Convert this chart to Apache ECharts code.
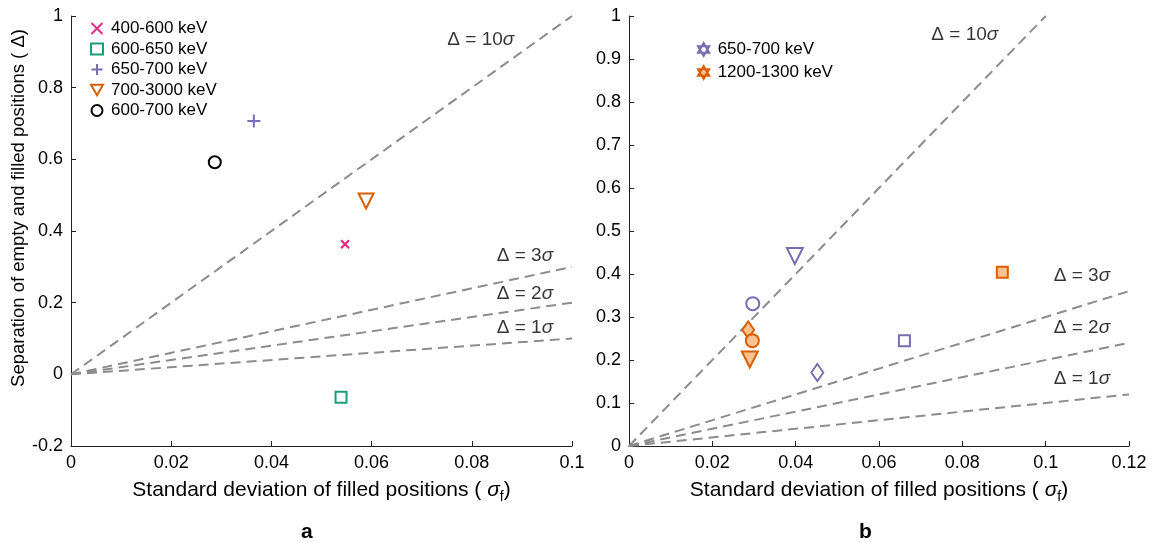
<!DOCTYPE html>
<html>
<head>
<meta charset="utf-8">
<script src="https://cdn.jsdelivr.net/npm/echarts@6/dist/echarts.min.js"></script>
<style>
html,body{margin:0;padding:0;background:#fff;}
#charts{width:1163px;height:543px;}
</style>
</head>
<body>
<div id="charts"></div>
<script>
// panel a data
var leftNames = ['400-600 keV', '600-650 keV', '650-700 keV', '700-3000 keV', '600-700 keV'];
var leftX = [0.0547, 0.0539, 0.0365, 0.0589, 0.0287];
var leftY = [0.363, -0.064, 0.707, 0.484, 0.592];

// panel b data
var rightNames = ['650-700 keV', '1200-1300 keV'];
var purpleShapes = ['circle', 'triangleDown', 'diamond', 'square'];
var purpleX = [0.0297, 0.0398, 0.0452, 0.0661];
var purpleY = [0.331, 0.442, 0.171, 0.245];
var orangeShapes = ['diamond', 'circle', 'triangleDown', 'square'];
var orangeX = [0.0286, 0.0296, 0.0290, 0.0896];
var orangeY = [0.270, 0.245, 0.201, 0.404];

// sigma guide lines
var sigmaLevels = [10, 3, 2, 1];

var FONT = 'Liberation Sans';
var PURPLE = '#7570b3', ORANGE = '#d95f02', ORANGE_FILL = '#fdc28f';
var PINK = '#e7298a', GREEN = '#1b9e77';

var SYM = {
    cross: 'path://M0,0 L10,10 M10,0 L0,10',
    plus: 'path://M5,0 L5,10 M0,5 L10,5',
    triangleDown: 'path://M0,0 L10,0 L5,8.66 Z',
    square: 'rect',
    circle: 'circle',
    diamond: 'path://M4,0 L8,6 L4,12 L0,6 Z',
    hexagram: 'path://M5,0 L9.33,7.5 L0.67,7.5 Z M5,10 L0.67,2.5 L9.33,2.5 Z'
};

var myCharts = echarts.init(document.getElementById('charts'));

function axisCommon(){
    return {
        axisLine: {show: true, onZero: false, lineStyle: {color: '#222', width: 1}},
        axisTick: {show: true, inside: true, length: 5, lineStyle: {color: '#222'}},
        axisLabel: {color: '#000', fontSize: 18, fontFamily: FONT},
        splitLine: {show: false},
        nameTextStyle: {color: '#000', fontSize: 21, fontFamily: FONT}
    };
}

var xTitleRich = {
    s: {fontSize: 21, fontFamily: FONT, color: '#000', fontStyle: 'italic'},
    f: {fontSize: 14, fontFamily: FONT, color: '#000', padding: [13, 0, 0, 0]}
};

var xAxes = [
    Object.assign(axisCommon(), {gridIndex: 0, type: 'value', min: 0, max: 0.1, interval: 0.02,
        name: 'Standard deviation of filled positions ( {s|σ}{f|f})', nameLocation: 'middle', nameGap: 31}),
    Object.assign(axisCommon(), {gridIndex: 1, type: 'value', min: 0, max: 0.12, interval: 0.02,
        name: 'Standard deviation of filled positions ( {s|σ}{f|f})', nameLocation: 'middle', nameGap: 31})
];
xAxes.forEach(function(a){ a.nameTextStyle.rich = xTitleRich; });

var yAxes = [
    Object.assign(axisCommon(), {gridIndex: 0, type: 'value', min: -0.2, max: 1, interval: 0.2}),
    Object.assign(axisCommon(), {gridIndex: 1, type: 'value', min: 0, max: 1, interval: 0.1})
];

var series = [];

// guide lines
[0, 1].forEach(function(g){
    var xmax = g === 0 ? 0.1 : 0.12;
    sigmaLevels.forEach(function(k){
        var xe = Math.min(xmax, 1 / k);
        series.push({
            type: 'line', xAxisIndex: g, yAxisIndex: g, silent: true, symbol: 'none',
            data: [[0, 0], [xe, k * xe]],
            lineStyle: {color: '#8c8c8c', width: 2, type: [10, 6]},
            z: 1
        });
    });
});

// guide labels
var labelRich = {
    n: {fontSize: 19, fontFamily: FONT, color: '#000'},
    i: {fontSize: 19, fontFamily: FONT, color: '#000', fontStyle: 'italic'}
};
function guideLabels(g, pts){
    series.push({
        type: 'scatter', xAxisIndex: g, yAxisIndex: g, silent: true, symbolSize: 0,
        data: pts.map(function(p, j){ return [p[0], p[1], sigmaLevels[j]]; }),
        label: {show: true, position: 'inside', rich: labelRich,
            formatter: function(p){ return '{n|Δ = ' + p.value[2] + '}{i|σ}'; }},
        z: 2
    });
}
guideLabels(0, [[0.0818, 0.933], [0.0906, 0.331], [0.0906, 0.226], [0.0906, 0.131]]);
guideLabels(1, [[0.0806, 0.956], [0.1087, 0.395], [0.1087, 0.274], [0.1087, 0.156]]);

// panel a markers
var leftStyles = [
    {symbol: SYM.cross, size: 8, color: PINK, fill: 'rgba(0,0,0,0)', bw: 2.2},
    {symbol: SYM.square, size: 11, color: GREEN, fill: '#fff', bw: 2},
    {symbol: SYM.plus, size: 13, color: PURPLE, fill: 'rgba(0,0,0,0)', bw: 2},
    {symbol: SYM.triangleDown, size: 15, color: ORANGE, fill: '#fff', bw: 2},
    {symbol: SYM.circle, size: 12, color: '#000', fill: '#fff', bw: 2}
];
for (var i = 0; i < leftNames.length; i++){
    var st = leftStyles[i];
    series.push({
        name: leftNames[i], type: 'scatter', xAxisIndex: 0, yAxisIndex: 0,
        symbol: st.symbol, symbolSize: st.size,
        data: [[leftX[i], leftY[i]]],
        itemStyle: {color: st.fill, borderColor: st.color, borderWidth: st.bw, opacity: 1},
        z: 5
    });
}

// panel b markers
var shapeSize = {circle: 13, triangleDown: 16, diamond: [12, 17], square: 11};
function rightSeries(name, shapes, xs, ys, color, fill){
    for (var j = 0; j < shapes.length; j++){
        series.push({
            name: name, type: 'scatter', xAxisIndex: 1, yAxisIndex: 1,
            symbol: SYM[shapes[j]], symbolSize: shapeSize[shapes[j]], symbolKeepAspect: false,
            data: [[xs[j], ys[j]]],
            itemStyle: {color: fill, borderColor: color, borderWidth: 2, opacity: 1},
            z: 5
        });
    }
}
rightSeries(rightNames[0], purpleShapes, purpleX, purpleY, PURPLE, '#fff');
rightSeries(rightNames[1], orangeShapes, orangeX, orangeY, ORANGE, ORANGE_FILL);

var option = {
    backgroundColor: '#fff',
    animation: false,
    grid: [
        {left: 71, top: 16, width: 501, height: 430},
        {left: 629, top: 16, width: 500, height: 430}
    ],
    xAxis: xAxes,
    yAxis: yAxes,
    legend: [
        {
            orient: 'vertical', left: 85, top: 15, itemGap: 3.5, itemWidth: 12, itemHeight: 11,
            selectedMode: false,
            textStyle: {fontSize: 17, fontFamily: FONT, color: '#000', padding: [0, 0, 0, 3]},
            data: leftNames.map(function(n, k){
                return {name: n, icon: leftStyles[k].symbol,
                    itemStyle: {color: leftStyles[k].fill, borderColor: leftStyles[k].color, borderWidth: 2}};
            })
        },
        {
            orient: 'vertical', left: 692, top: 36, itemGap: 6, itemWidth: 12, itemHeight: 13,
            selectedMode: false,
            textStyle: {fontSize: 17, fontFamily: FONT, color: '#000', padding: [0, 0, 0, 3]},
            data: [
                {name: rightNames[0], icon: SYM.hexagram, itemStyle: {color: '#fff', borderColor: PURPLE, borderWidth: 2}},
                {name: rightNames[1], icon: SYM.hexagram, itemStyle: {color: ORANGE_FILL, borderColor: ORANGE, borderWidth: 2}}
            ]
        }
    ],
    graphic: [
        {type: 'text', x: 19, y: 208, rotation: Math.PI / 2,
            style: {text: 'Separation of empty and filled positions ( Δ)', font: '18.5px "Liberation Sans"',
                fill: '#000', align: 'center', verticalAlign: 'middle'}},
        {type: 'text', left: 301, top: 522, style: {text: 'a', font: 'bold 21px "Liberation Sans"', fill: '#000'}},
        {type: 'text', left: 859, top: 522, style: {text: 'b', font: 'bold 21px "Liberation Sans"', fill: '#000'}}
    ],
    series: series
};
myCharts.setOption(option);
</script>
</body>
</html>
